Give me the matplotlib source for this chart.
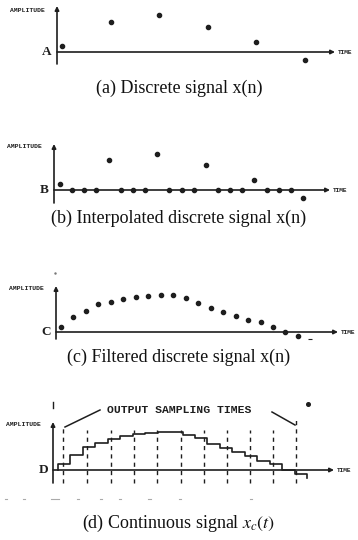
import matplotlib.pyplot as plt
import numpy as np

W, H = 358, 540
plt.rcParams['font.family'] = ['Liberation Serif', 'DejaVu Serif']
plt.rcParams['mathtext.fontset'] = 'stix'
INK = '#1e1e1e'

# amplitudes (arbitrary units)
amp_a = [6, 30, 37, 25, 10, -8]
amp_b = [6, 30, 36, 25, 10, -8]          # original samples, zeros go in between
upsample = 4
amp_c = [5, 15, 21, 28, 30, 33, 35, 36, 37, 37, 34, 29, 24, 20, 16, 12, 10, 5, 0, -4]
amp_d = [6, 15, 23, 27, 31, 34, 36, 37, 38, 38, 35, 32, 26, 22, 18, 14, 9, 6, 0, -4, -8]
t_out = [0.40, 2.33, 4.26, 6.10, 7.95, 9.88, 11.73, 13.57, 15.42, 17.27, 19.12]
captions = ['(a) Discrete signal x(n)',
            '(b) Interpolated discrete signal x(n)',
            '(c) Filtered discrete signal x(n)',
            '(d) Continuous signal $x_c(t)$']
letters = ['A', 'B', 'C', 'D']
# faint scan specks under panel (d): (x px, length px)
specks = [(5, 2), (23, 2), (51, 8), (77, 2), (100, 2), (119, 2), (148, 3), (179, 2), (250, 2)]

fig = plt.figure(figsize=(W / 100, H / 100), dpi=100)


def panel(top, bottom, x0, step, base, axis_px, vtop, vbot, hend, letter, amp_y):
    ax = fig.add_axes([0, 1 - bottom / H, 1, (bottom - top) / H])
    ax.set_xlim(-x0 / step, (W - x0) / step)
    ax.set_ylim(base - bottom, base - top)
    ax.axis('off')
    fx = lambda px: (px - x0) / step
    fy = lambda py: base - py
    # axes with arrows
    ax.annotate('', xy=(fx(axis_px), fy(vtop)), xytext=(fx(axis_px), fy(vbot)),
                arrowprops=dict(arrowstyle='-|>', lw=1.2, color=INK, mutation_scale=6,
                                shrinkA=0, shrinkB=0))
    ax.annotate('', xy=(fx(hend), 0), xytext=(fx(axis_px), 0),
                arrowprops=dict(arrowstyle='-|>', lw=1.2, color=INK, mutation_scale=6,
                                shrinkA=0, shrinkB=0))
    ax.text(fx(axis_px - 5), 0, letter, ha='right', va='center', fontsize=9.5,
            fontweight='bold', color=INK)
    ax.text(fx(axis_px - 12), fy(amp_y), 'AMPLITUDE', ha='right', va='center',
            fontsize=4.6, fontweight='bold', family='Liberation Mono', color=INK)
    ax.text(fx(hend + 3), 0, 'TIME', ha='left', va='center', fontsize=4.4,
            fontweight='bold', family='Liberation Mono', color=INK)
    return ax, fx, fy


# (a)
ax, fx, fy = panel(0, 72, 62, 48.6, 52, 57, 6, 64, 335, letters[0], 10)
ax.plot(np.arange(len(amp_a)), amp_a, 'o', color=INK, ms=3)

# (b)
ax, fx, fy = panel(135, 212, 60, 12.15, 190, 54, 144, 203, 330, letters[1], 146)
interp = np.zeros((len(amp_b) - 1) * upsample + 1)
interp[::upsample] = amp_b
ax.plot(np.arange(len(interp)), interp, 'o', color=INK, ms=3)

# (c)
ax, fx, fy = panel(272, 345, 61, 12.47, 332, 56, 286, 339, 338, letters[2], 289)
ax.plot(np.arange(len(amp_c)), amp_c, 'o', color=INK, ms=3)
ax.plot([len(amp_c)], [-7], '_', color=INK, ms=2.5, mew=0.8)
ax.plot([fx(55)], [fy(273)], '.', color='#777', ms=1.5)

# (d)
ax, fx, fy = panel(398, 505, 58, 12.45, 470, 53, 422, 483, 334, letters[3], 425)
xs = np.repeat(np.arange(len(amp_d)), 2)
ys = np.r_[0, np.repeat(amp_d[:-1], 2), amp_d[-1]]
ax.plot(xs, ys, color=INK, lw=1.2)
for i, t in enumerate(t_out):
    top = 44 if i == 0 else (50 if i == len(t_out) - 1 else 40)
    ax.plot([t, t], [fy(483), top], color=INK, lw=1.0, ls=(0, (3, 3)))
ax.text(fx(179), fy(410), 'OUTPUT SAMPLING TIMES', ha='center', va='center',
        fontsize=8.2, fontweight='bold', family='Liberation Mono', color=INK)
ax.plot([fx(100), fx(65)], [fy(410), fy(427)], color=INK, lw=1.1)
ax.plot([fx(272), fx(295)], [fy(412), fy(425)], color=INK, lw=1.1)
ax.plot([fx(53), fx(53)], [fy(402), fy(408)], color=INK, lw=1.0)
ax.plot([fx(308)], [fy(404)], 'o', color=INK, ms=2.6)
for sx, sl in specks:
    ax.plot([fx(sx), fx(sx + sl)], [fy(499), fy(499)], color='#aaa', lw=0.8)

# captions
for cap, y in zip(captions, [88, 218, 357, 523]):
    fig.text(0.5, 1 - y / H, cap, ha='center', va='center', fontsize=13, color='#111')

fig.savefig('out.png', dpi=100)
